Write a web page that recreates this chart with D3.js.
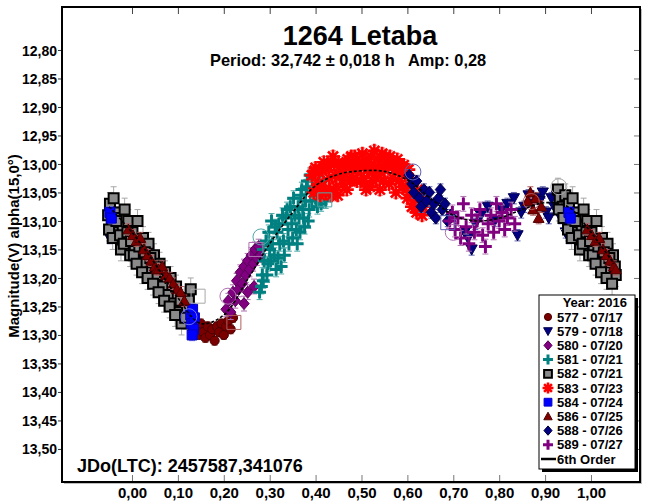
<!DOCTYPE html>
<meta charset="utf-8">
<style>
  html, body { margin:0; padding:0; background:#fff; overflow:hidden }
  svg text { font-family: "Liberation Sans", Arial, sans-serif; font-weight: bold; }
</style>
<svg id="chart" width="650" height="504"></svg>
<script src="https://cdn.jsdelivr.net/npm/d3@7"></script>
<script>

// ---- data (phase, magnitude) ----

var seriesNames = ["577 - 07/17", "579 - 07/18", "580 - 07/20", "581 - 07/21", "582 - 07/21",
                   "583 - 07/23", "584 - 07/24", "586 - 07/25", "588 - 07/26", "589 - 07/27"];

var s577 = [[0.138,13.285],[0.145,13.300],[0.150,13.280],[0.155,13.295],[0.160,13.305],[0.165,13.285],
            [0.170,13.300],[0.175,13.290],[0.180,13.310],[0.185,13.285],[0.190,13.295],[0.195,13.280],
            [0.200,13.300],[0.205,13.285],[0.210,13.275],[0.215,13.290],[0.220,13.270]];

var s579 = [[0.725,13.120],[0.732,13.130],[0.740,13.150],[0.748,13.105],[0.760,13.090],[0.775,13.075],
            [0.790,13.100],[0.805,13.080],[0.818,13.070],[0.832,13.060],[0.840,13.125],[0.848,13.085],
            [0.855,13.075],[0.864,13.055],[0.872,13.070],[0.880,13.060],[0.888,13.065],[0.895,13.050],
            [0.902,13.085],[0.908,13.095],[0.914,13.060],[0.920,13.075],[0.926,13.055],[0.935,13.095],
            [0.945,13.120],[0.952,13.130]];

var s580 = [[0.205,13.255],[0.210,13.240],[0.215,13.260],[0.220,13.225],[0.225,13.240],[0.228,13.205],
            [0.232,13.220],[0.236,13.190],[0.240,13.210],[0.244,13.245],[0.244,13.180],[0.248,13.195],
            [0.252,13.170],[0.252,13.225],[0.256,13.185],[0.260,13.160],[0.264,13.175],[0.266,13.215],
            [0.268,13.150],[0.272,13.165],[0.276,13.145],[0.280,13.160]];

var s581 = [[0.284,13.195],[0.288,13.170],[0.292,13.135],[0.296,13.175],[0.300,13.150],[0.304,13.100],
            [0.310,13.160],[0.316,13.120],[0.320,13.105],[0.325,13.180],[0.330,13.135],[0.335,13.095],
            [0.340,13.115],[0.345,13.075],[0.350,13.130],[0.355,13.090],[0.360,13.140],[0.364,13.095],
            [0.368,13.055],[0.372,13.080],[0.376,13.110],[0.380,13.040],[0.384,13.100],[0.388,13.020],
            [0.392,13.065],[0.398,13.045],[0.404,13.075],[0.410,13.030],[0.416,13.045],[0.422,13.065],
            [0.282,13.215],[0.286,13.150],[0.294,13.195],[0.298,13.120],[0.302,13.170],[0.306,13.140],
            [0.312,13.110],[0.318,13.165],[0.322,13.140],[0.328,13.090],[0.332,13.160],[0.338,13.080],
            [0.342,13.140],[0.348,13.105],[0.352,13.060],[0.358,13.115],[0.362,13.075],[0.366,13.120],
            [0.370,13.045],[0.374,13.095],[0.378,13.065],[0.382,13.030],[0.386,13.080],[0.390,13.050],
            [0.394,13.025],[0.400,13.060],[0.406,13.040],[0.412,13.070],[0.418,13.030],[0.426,13.050],
            [0.278,13.225],[0.286,13.205],[0.314,13.185]];

var s582 = [[0.928,13.045],[0.932,13.060],[0.938,13.075],[0.944,13.055],[0.948,13.090],[0.952,13.070],
            [0.956,13.105],[0.960,13.060],[0.964,13.085],[0.968,13.120],[0.972,13.095],[0.976,13.150],
            [0.980,13.110],[0.984,13.080],[0.988,13.135],[0.992,13.100],[0.996,13.160],[0.001,13.120],
            [0.006,13.145],[0.012,13.100],[0.018,13.165],[0.024,13.130],[0.030,13.175],[0.036,13.140],
            [0.042,13.190],[0.048,13.160],[0.054,13.195],[0.060,13.175],[0.066,13.215],[0.072,13.190],
            [0.078,13.230],[0.084,13.200],[0.090,13.245],[0.096,13.215],[0.102,13.260],[0.108,13.280],
            [0.114,13.235],[0.120,13.255],[0.128,13.220],
            [0.930,13.080],[0.940,13.095],[0.950,13.115],[0.958,13.130],[0.966,13.100],[0.974,13.125],
            [0.982,13.140],[0.990,13.120],[0.998,13.135],[0.004,13.160],[0.010,13.175],[0.016,13.145],
            [0.022,13.190],[0.028,13.155],[0.034,13.200],[0.040,13.165],[0.046,13.210],[0.052,13.180],
            [0.058,13.225],[0.070,13.240],[0.082,13.250],[0.094,13.265],[0.106,13.240],[0.116,13.270],
            [0.124,13.240]];

var s583 = [[0.392,13.020],[0.396,13.050],[0.400,13.007],[0.405,13.035],[0.410,13.055],[0.415,13.010],
            [0.420,13.045],[0.425,13.002],[0.430,13.025],[0.435,13.055],[0.440,13.000],[0.445,13.040],
            [0.450,12.997],[0.455,13.020],[0.460,13.035],[0.465,13.000],[0.470,12.992],[0.475,13.030],
            [0.480,13.010],[0.485,12.987],[0.490,13.030],[0.495,13.000],[0.500,12.997],[0.505,13.025],
            [0.510,13.045],[0.515,13.007],[0.520,12.987],[0.525,13.030],[0.530,13.005],[0.535,12.992],
            [0.540,13.045],[0.545,12.982],[0.550,13.010],[0.555,13.002],[0.560,13.035],[0.565,13.000],
            [0.570,12.997],[0.575,13.050],[0.580,13.015],[0.585,13.007],[0.590,13.040],[0.595,13.020],
            [0.600,13.060],[0.605,13.035],[0.610,13.075],[0.615,13.050],[0.620,13.085],[0.626,13.065],
            [0.632,13.090],
            [0.398,13.012],[0.402,13.045],[0.408,13.015],[0.412,13.040],[0.418,12.997],[0.422,13.050],
            [0.428,13.005],[0.432,13.045],[0.438,12.987],[0.442,13.020],[0.448,13.055],[0.452,13.005],
            [0.458,13.002],[0.462,13.015],[0.468,13.045],[0.472,13.000],[0.478,12.987],[0.482,13.025],
            [0.488,13.002],[0.492,13.010],[0.498,13.030],[0.502,12.982],[0.508,13.005],[0.512,12.997],
            [0.518,13.040],[0.522,13.015],[0.528,12.977],[0.532,13.025],[0.538,13.007],[0.542,13.015],
            [0.548,13.030],[0.552,12.987],[0.558,13.005],[0.562,12.987],[0.568,13.025],[0.572,13.010],
            [0.578,12.992],[0.582,13.030],[0.588,13.005],[0.592,13.002],[0.598,13.045],[0.602,13.010],
            [0.608,13.055],[0.612,13.030],[0.618,13.070],[0.622,13.045],[0.628,13.080],[0.634,13.075]];

var s584 = [[0.952,13.085],[0.955,13.095],[0.128,13.265],[0.130,13.280],[0.132,13.255],[0.134,13.290],
            [0.136,13.270],[0.131,13.300]];

var s586 = [[0.862,13.065],[0.868,13.050],[0.874,13.080],[0.880,13.060],[0.886,13.095],[0.892,13.075],
            [0.992,13.115],[0.002,13.125],[0.010,13.135],[0.018,13.130],[0.026,13.150],[0.034,13.160],
            [0.042,13.170],[0.050,13.180],[0.054,13.185],[0.058,13.185],[0.066,13.180],[0.074,13.195],
            [0.082,13.200],[0.090,13.210],[0.098,13.220],[0.106,13.225],[0.114,13.240]];

var s588 = [[0.604,13.020],[0.610,13.035],[0.614,13.050],[0.620,13.030],[0.626,13.060],[0.630,13.075],
            [0.636,13.045],[0.642,13.065],[0.648,13.050],[0.652,13.085],[0.658,13.070],[0.662,13.095],
            [0.668,13.060],[0.672,13.045],[0.676,13.080],[0.682,13.070],[0.688,13.100],[0.694,13.090]];

var s589 = [[0.692,13.100],[0.698,13.085],[0.704,13.115],[0.710,13.095],[0.716,13.130],[0.722,13.070],
            [0.728,13.110],[0.734,13.140],[0.740,13.090],[0.746,13.120],[0.752,13.100],[0.758,13.080],
            [0.764,13.125],[0.770,13.145],[0.776,13.105],[0.782,13.090],[0.788,13.120],[0.794,13.070],
            [0.800,13.100],[0.806,13.085],[0.812,13.115],[0.818,13.095],[0.826,13.080],[0.834,13.105]];

var seriesData = [s577, s579, s580, s581, s582, s583, s584, s586, s588, s589];

// typical error bar half-length per series (mag)
var seriesErr = [0.008, 0.010, 0.013, 0.013, 0.020, 0.010, 0.010, 0.010, 0.010, 0.013];

// open (flagged) markers: series index, phase, mag, kind
var flagged = [[3,0.281,13.128,"c"],[2,0.209,13.232,"c"],[6,0.124,13.268,"c"],[8,0.612,13.014,"c"],
               [9,0.700,13.120,"c"],[4,0.930,13.040,"c"],[0,0.870,13.066,"c"],
               [3,0.420,13.063,"s"],[2,0.270,13.150,"s"],[0,0.222,13.278,"s"],[4,0.144,13.232,"s"],
               [8,0.688,13.103,"s"]];

// 6th order fit
var fitPhase = [-0.05,0.00,0.05,0.10,0.15,0.20,0.25,0.30,0.35,0.40,0.45,0.50,0.55,0.60,0.65,0.70,
                0.75,0.80,0.85,0.90,0.95,1.00,1.05];
var fitMag   = [13.075,13.120,13.175,13.235,13.280,13.265,13.205,13.140,13.085,13.038,13.018,13.012,
                13.013,13.028,13.060,13.090,13.100,13.095,13.080,13.068,13.075,13.120,13.175];

var yTicks = d3.range(0, 15).map(function(i) { return +(12.80 + i*0.05).toFixed(2); });
var xTicks = d3.range(0, 11).map(function(i) { return +(i*0.1).toFixed(1); });

// ---- styles ----
var shapes = ["circle","triDown","diamond","plus","square","star","square","triUp","diamond","plus"];
var fills  = ["#7a0000","#000080","#800080","#008080","#8a8a8a","#ff0000","#0000ff","#800000","#000080","#800080"];
var strokes= ["#4a0000","#000050","#5a005a","#008080","#000000","#ff0000","#0000c0","#500000","#000040","#800080"];
var errCol = ["#b06060","#6060b0","#b070b0","#50a8a8","#a8a8a8","#ff7070","#7070ff","#b06060","#6060b0","#b070b0"];

var svg = d3.select("#chart");
var pLeft = 62, pRight = 640, pTop = 7, pBottom = 482;

var x = d3.scaleLinear().domain([-0.1525, 1.1068]).range([pLeft, pRight]);
var y = d3.scaleLinear().domain([12.7246, 13.558]).range([pTop, pBottom]);

function fmt(v, n) { return v.toFixed(n).replace(".", ","); }

function shapePath(shape, s) {
    var d = 0.72 * s;
    switch (shape) {
        case "circle":  return "M" + s + ",0A" + s + "," + s + " 0 1,1 " + (-s) + ",0A" + s + "," + s + " 0 1,1 " + s + ",0Z";
        case "square":  return "M" + (-s) + "," + (-s) + "h" + 2*s + "v" + 2*s + "h" + (-2*s) + "Z";
        case "diamond": return "M0," + (-s*1.15) + "L" + s + ",0L0," + s*1.15 + "L" + (-s) + ",0Z";
        case "triUp":   return "M0," + (-s) + "L" + s + "," + s*0.8 + "L" + (-s) + "," + s*0.8 + "Z";
        case "triDown": return "M0," + s + "L" + s + "," + (-s*0.8) + "L" + (-s) + "," + (-s*0.8) + "Z";
        case "plus":    return "M" + (-s) + ",0H" + s + "M0," + (-s) + "V" + s;
        case "star":    return "M" + (-s) + ",0H" + s + "M0," + (-s) + "V" + s +
                               "M" + (-d) + "," + (-d) + "L" + d + "," + d + "M" + (-d) + "," + d + "L" + d + "," + (-d);
    }
}

var sizes = { circle: 4.6, square: 5, diamond: 5.2, triUp: 5.4, triDown: 5.6, plus: 6.4, star: 7 };

function styleMarker(sel, i, scale) {
    var sh = shapes[i];
    var open = (sh === "plus" || sh === "star");
    sel.attr("d", shapePath(sh, sizes[sh] * (scale || 1)))
       .attr("fill", open ? "none" : fills[i])
       .attr("stroke", open ? fills[i] : strokes[i])
       .attr("stroke-width", sh === "square" && i === 4 ? 2 : (open ? (sh === "star" ? 2.6 : 3) : 1));
}

// phases are folded in [0,1); the plot repeats the ends
function expand(data) {
    var out = [];
    data.forEach(function(p) {
        out.push(p);
        if (p[0] < 0.056) out.push([p[0] + 1, p[1]]);
        if (p[0] > 0.947) out.push([p[0] - 1, p[1]]);
    });
    return out;
}

// ---- plot area ----
svg.append("rect").attr("x", pLeft + 2).attr("y", pTop + 2).attr("width", pRight - pLeft).attr("height", pBottom - pTop)
   .attr("fill", "#bdbdbd");
svg.append("rect").attr("x", pLeft).attr("y", pTop).attr("width", pRight - pLeft).attr("height", pBottom - pTop)
   .attr("fill", "#fff");

var plot = svg.append("g");

seriesData.forEach(function(data, i) {
    var pts = expand(data);
    var g = plot.append("g");
    var e = seriesErr[i];
    g.selectAll("path.err").data(pts).enter().append("path")
        .attr("class", "err")
        .attr("d", function(d) {
            var px = x(d[0]), y0 = y(d[1] - e), y1 = y(d[1] + e);
            return "M" + px + "," + y0 + "V" + y1 + "M" + (px - 3) + "," + y0 + "H" + (px + 3) +
                   "M" + (px - 3) + "," + y1 + "H" + (px + 3);
        })
        .attr("stroke", errCol[i]).attr("stroke-width", 1).attr("fill", "none");
    g.selectAll("path.mk").data(pts).enter().append("path")
        .attr("class", "mk")
        .attr("transform", function(d) { return "translate(" + x(d[0]) + "," + y(d[1]) + ")"; })
        .each(function() { styleMarker(d3.select(this), i); });
});

plot.selectAll("path.flag").data(flagged).enter().append("path")
    .attr("class", "flag")
    .attr("transform", function(d) { return "translate(" + x(d[1]) + "," + y(d[2]) + ")"; })
    .attr("d", function(d) { return d[3] === "c" ? shapePath("circle", 8) : shapePath("square", 7); })
    .attr("fill", "none")
    .attr("stroke", function(d) { return errCol[d[0]]; })
    .attr("stroke-width", 1);

var fitLine = d3.line()
    .x(function(d, i) { return x(fitPhase[i]); })
    .y(function(d) { return y(d); })
    .curve(d3.curveCatmullRom);

plot.append("path").datum(fitMag)
    .attr("d", fitLine)
    .attr("fill", "none").attr("stroke", "#000").attr("stroke-width", 1.6)
    .attr("stroke-dasharray", "3,2");

// ---- axes ----
var axL = svg.append("g").attr("transform", "translate(" + pLeft + ",0)")
    .call(d3.axisLeft(y).tickValues(yTicks).tickSize(4).tickPadding(1).tickFormat(function(d) { return fmt(d, 2); }));
var axR = svg.append("g").attr("transform", "translate(" + pRight + ",0)")
    .call(d3.axisRight(y).tickValues(yTicks).tickSize(-6).tickFormat(""));
var axT = svg.append("g").attr("transform", "translate(0," + pTop + ")")
    .call(d3.axisTop(x).tickValues(xTicks).tickSize(-7).tickFormat(""));
var axB = svg.append("g").attr("transform", "translate(0," + pBottom + ")")
    .call(d3.axisBottom(x).tickValues(xTicks).tickSize(-7).tickPadding(5).tickFormat(function(d) { return fmt(d, 2); }));

[axL, axR, axT, axB].forEach(function(a) {
    a.select(".domain").remove();
    a.selectAll("text").attr("fill", "#000").style("font-size", "15px");
});
axL.selectAll("text").style("font-size", "14px").attr("dy", "0.36em");
axL.selectAll("line").attr("stroke", "#333");
axR.selectAll("line").attr("stroke", "#777");
axT.selectAll("line").attr("stroke", "#444");
axB.selectAll("line").attr("stroke", "#777");

svg.append("rect").attr("x", pLeft).attr("y", pTop).attr("width", pRight - pLeft).attr("height", pBottom - pTop)
   .attr("fill", "none").attr("stroke", "#000").attr("stroke-width", 2);

// ---- titles ----
svg.append("text").attr("x", 360).attr("y", 45).attr("text-anchor", "middle")
   .style("font-size", "27px").text("1264 Letaba");
svg.append("text").attr("x", 210).attr("y", 66)
   .style("font-size", "16.4px").attr("xml:space", "preserve")
   .text("Period: 32,742 \u00b1 0,018 h   Amp: 0,28");
svg.append("text").attr("x", 77).attr("y", 472)
   .style("font-size", "18px").text("JDo(LTC): 2457587,341076");
svg.append("text").attr("transform", "translate(19,246) rotate(-90)").attr("text-anchor", "middle")
   .style("font-size", "15px").text("Magnitude(V) alpha(15,0\u00b0)");

// ---- legend ----
var lgX = 539, lgY = 295, lgW = 96, lgH = 174, rowH = 14.2;
svg.append("rect").attr("x", lgX + 3).attr("y", lgY + 3).attr("width", lgW).attr("height", lgH).attr("fill", "#000");
svg.append("rect").attr("x", lgX).attr("y", lgY).attr("width", lgW).attr("height", lgH)
   .attr("fill", "#fff").attr("stroke", "#000").attr("stroke-width", 1);
var lg = svg.append("g");
lg.append("text").attr("x", 627).attr("y", 307).attr("text-anchor", "end").style("font-size", "13px").text("Year: 2016");
seriesNames.forEach(function(name, i) {
    var yy = 317 + i * rowH;
    var m = lg.append("path").attr("transform", "translate(548," + yy + ")");
    styleMarker(m, i, 0.78);
    lg.append("text").attr("x", 557).attr("y", yy + 4.6).style("font-size", "13px").text(name);
});
var yFit = 317 + seriesNames.length * rowH;
lg.append("line").attr("x1", 541).attr("x2", 556).attr("y1", yFit).attr("y2", yFit)
  .attr("stroke", "#000").attr("stroke-width", 2.5);
lg.append("text").attr("x", 557).attr("y", yFit + 4.6).style("font-size", "13px").text("6th Order");

</script>
